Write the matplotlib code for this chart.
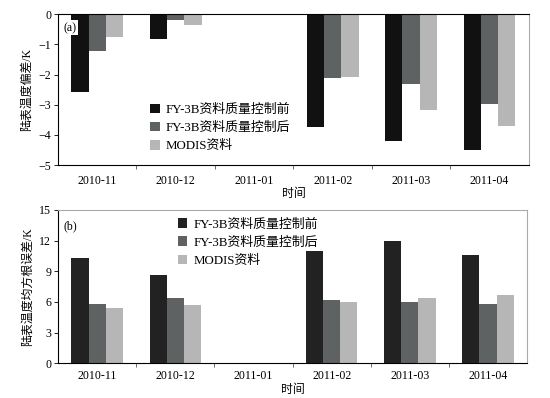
import matplotlib
matplotlib.use("Agg")
import matplotlib.pyplot as plt
from matplotlib.patches import Patch
import numpy as np

plt.rcParams['font.family'] = ['Liberation Serif', 'Noto Sans CJK SC', 'DejaVu Sans']
plt.rcParams['axes.unicode_minus'] = True

months = ["2010-11", "2010-12", "2011-01", "2011-02", "2011-03", "2011-04"]
series = ["FY-3B资料质量控制前", "FY-3B资料质量控制后", "MODIS资料"]

# (a) bias, K  (2011-01 has no data)
bias_before = [-2.58, -0.83, 0, -3.75, -4.19, -4.50]
bias_after = [-1.23, -0.19, 0, -2.11, -2.31, -2.99]
bias_modis = [-0.74, -0.34, 0, -2.08, -3.18, -3.72]

# (b) RMSE, K
rmse_before = [10.27, 8.64, 0, 10.99, 11.97, 10.60]
rmse_after = [5.77, 6.42, 0, 6.19, 6.00, 5.83]
rmse_modis = [5.44, 5.70, 0, 5.97, 6.36, 6.65]

colors_a = ["#111111", "#5e6262", "#b6b6b6"]
colors_b = ["#222222", "#5e6262", "#b6b6b6"]

fs = 8.6
lfs = 9.3
fig = plt.figure(figsize=(5.5, 3.98), dpi=100)
ax1 = fig.add_axes([0.1055, 0.5854, 0.856, 0.3787])
ax2 = fig.add_axes([0.1055, 0.0872, 0.853, 0.3852])

x = np.arange(len(months))
w = 0.22


def style(ax, cols, pad):
    ax.set_xlim(-0.5, 5.5)
    ax.set_xticks(np.arange(0.5, 5.5, 1))
    ax.set_xticklabels([])
    ax.set_xticks(x, minor=True)
    ax.set_xticklabels(months, minor=True, fontsize=fs)
    ax.tick_params(axis='x', which='major', direction='out', length=3, width=0.6, color='#555555')
    ax.tick_params(axis='x', which='minor', length=0, pad=pad)
    ax.tick_params(axis='y', direction='out', length=3, width=0.6, labelsize=fs, pad=2)
    for s in ax.spines.values():
        s.set_linewidth(0.8)
    ax.set_xlabel("时间", fontsize=fs, labelpad=1)
    handles = [Patch(facecolor=c, edgecolor='none') for c in cols]
    return handles


# panel (a)
for i, (vals, c) in enumerate(zip([bias_before, bias_after, bias_modis], colors_a)):
    ax1.bar(x + (i - 1) * w, vals, w, color=c)
ax1.set_ylim(-5, 0)
ax1.set_yticks([0, -1, -2, -3, -4, -5])
h = style(ax1, colors_a, 7)
ax1.spines['right'].set_color('#aaaaaa')
ax1.set_ylabel("陆表温度偏差/K", fontsize=fs, labelpad=4)
ax1.legend(h, series, loc='upper left', bbox_to_anchor=(0.195, 0.405), frameon=False,
           fontsize=lfs, handlelength=0.75, handleheight=0.75, handletextpad=0.45,
           labelspacing=0.45, borderpad=0, borderaxespad=0)
ax1.text(0.012, 0.95, "(a)", transform=ax1.transAxes, fontsize=fs, va='top',
         bbox=dict(facecolor='white', edgecolor='none', pad=1))

# panel (b)
for i, (vals, c) in enumerate(zip([rmse_before, rmse_after, rmse_modis], colors_b)):
    ax2.bar(x + (i - 1) * w, vals, w, color=c)
ax2.set_ylim(0, 15)
ax2.set_yticks([0, 3, 6, 9, 12, 15])
h = style(ax2, colors_b, 5)
ax2.spines['right'].set_color('#aaaaaa')
ax2.spines['top'].set_color('#aaaaaa')
ax2.set_ylabel("陆表温度均方根误差/K", fontsize=fs, labelpad=4)
ax2.legend(h, series, loc='upper left', bbox_to_anchor=(0.255, 0.945), frameon=False,
           fontsize=lfs, handlelength=0.75, handleheight=0.75, handletextpad=0.45,
           labelspacing=0.45, borderpad=0, borderaxespad=0)
ax2.text(0.012, 0.93, "(b)", transform=ax2.transAxes, fontsize=fs, va='top')

fig.savefig("out.png", dpi=100)
